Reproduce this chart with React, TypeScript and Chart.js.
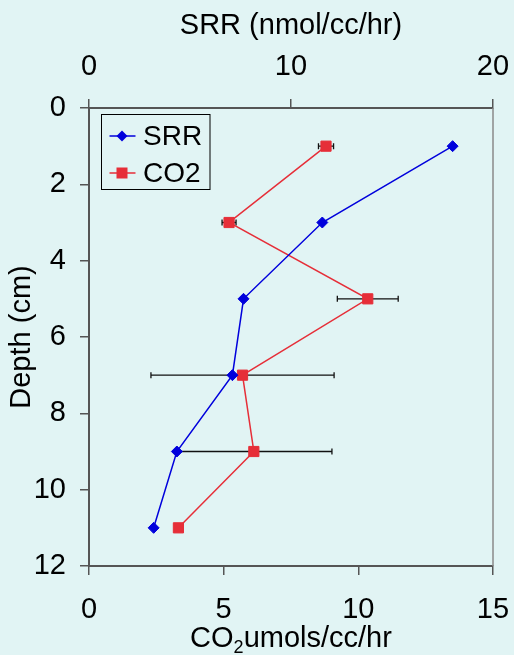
import React, { useEffect, useRef } from "react";
import { Chart, registerables } from "chart.js";

Chart.register(...registerables);

// ---- data ----
const depths = [1, 3, 5, 7, 9, 11];
const srrValues = [18.0, 11.55, 7.65, 7.1, 4.35, 3.2];
const co2Values = [8.8, 5.2, 10.35, 5.7, 6.12, 3.32];
const co2Errors = [0.28, 0.26, 1.13, 3.4, 2.9, 0];

const srrTicks = [0, 10, 20];
const co2Ticks = [0, 5, 10, 15];
const depthTicks = [0, 2, 4, 6, 8, 10, 12];

const BG = "#e1f4f4";
const BLUE = "#0000dc";
const RED = "#e62e38";
const AXIS = "#555555";
const FONT = '"Liberation Sans", Arial, sans-serif';

const errorBarPlugin = {
  id: "errorBars",
  beforeDatasetsDraw(chart: any) {
    const ctx = chart.ctx;
    const xs = chart.scales.x;
    const ys = chart.scales.y;
    ctx.save();
    ctx.strokeStyle = "#111";
    ctx.lineWidth = 1.3;
    co2Values.forEach((v, i) => {
      const e = co2Errors[i];
      if (!e) return;
      const y = ys.getPixelForValue(depths[i]);
      const x1 = xs.getPixelForValue(v - e);
      const x2 = xs.getPixelForValue(v + e);
      ctx.beginPath();
      ctx.moveTo(x1, y);
      ctx.lineTo(x2, y);
      ctx.moveTo(x1, y - 3);
      ctx.lineTo(x1, y + 3);
      ctx.moveTo(x2, y - 3);
      ctx.lineTo(x2, y + 3);
      ctx.stroke();
    });
    ctx.restore();
  },
};

const framePlugin = {
  id: "frame",
  beforeDatasetsDraw(chart: any) {
    const { ctx, chartArea } = chart;
    ctx.save();
    ctx.strokeStyle = "#8a8a8a";
    ctx.lineWidth = 1.5;
    ctx.beginPath();
    ctx.moveTo(chartArea.right, chartArea.top);
    ctx.lineTo(chartArea.right, chartArea.bottom);
    ctx.stroke();
    ctx.restore();
  },
};

const customTextPlugin = {
  id: "customText",
  afterDraw(chart: any) {
    const { ctx, chartArea } = chart;
    ctx.save();
    // bottom axis title with subscript
    const big = `29px ${FONT}`;
    const small = `18px ${FONT}`;
    ctx.fillStyle = "#000";
    ctx.textBaseline = "alphabetic";
    ctx.textAlign = "left";
    ctx.font = big;
    const w1 = ctx.measureText("CO").width;
    const w3 = ctx.measureText("umols/cc/hr").width;
    ctx.font = small;
    const w2 = ctx.measureText("2").width;
    const cx = (chartArea.left + chartArea.right) / 2;
    let x = cx - (w1 + w2 + w3) / 2;
    const base = 647;
    ctx.font = big;
    ctx.fillText("CO", x, base);
    x += w1;
    ctx.font = small;
    ctx.fillText("2", x, base + 5.5);
    x += w2;
    ctx.font = big;
    ctx.fillText("umols/cc/hr", x, base);

    // legend
    const bx = chartArea.left + 12.5;
    const by = chartArea.top + 6.5;
    ctx.strokeStyle = "#000";
    ctx.lineWidth = 1;
    ctx.strokeRect(bx, by, 108.5, 75);
    const rows = [
      { label: chart.data.datasets[0].label, color: BLUE, shape: "diamond", dy: 21.5 },
      { label: chart.data.datasets[1].label, color: RED, shape: "square", dy: 58.5 },
    ];
    rows.forEach((r) => {
      const y = by + r.dy;
      ctx.strokeStyle = r.color;
      ctx.lineWidth = 1.5;
      ctx.beginPath();
      ctx.moveTo(bx + 8, y);
      ctx.lineTo(bx + 34, y);
      ctx.stroke();
      ctx.fillStyle = r.color;
      const mx = bx + 20.5;
      ctx.beginPath();
      if (r.shape === "diamond") {
        ctx.moveTo(mx, y - 5.5);
        ctx.lineTo(mx + 5.5, y);
        ctx.lineTo(mx, y + 5.5);
        ctx.lineTo(mx - 5.5, y);
        ctx.closePath();
      } else {
        ctx.rect(mx - 5.5, y - 5.5, 11, 11);
      }
      ctx.fill();
      ctx.fillStyle = "#000";
      ctx.font = `28px ${FONT}`;
      ctx.textBaseline = "middle";
      ctx.fillText(r.label, bx + 41.5, y + 1);
    });
    ctx.restore();
  },
};

function zeroPad(s: any) {
  s.paddingLeft = 0;
  s.paddingRight = 0;
  s.paddingTop = 0;
  s.paddingBottom = 0;
}

export default function App() {
  const ref = useRef<HTMLCanvasElement | null>(null);
  useEffect(() => {
    if (!ref.current) return;
    const tickFont = { family: FONT, size: 29 };
    const chart = new Chart(ref.current, {
      type: "scatter",
      data: {
        datasets: [
          {
            label: "SRR",
            data: depths.map((d, i) => ({ x: srrValues[i], y: d })),
            xAxisID: "xTop",
            yAxisID: "y",
            showLine: true,
            borderColor: BLUE,
            backgroundColor: BLUE,
            borderWidth: 1.5,
            pointStyle: "rectRot",
            pointRadius: 5.5,
            pointBorderWidth: 1,
            pointBackgroundColor: BLUE,
            pointBorderColor: BLUE,
          },
          {
            label: "CO2",
            data: depths.map((d, i) => ({ x: co2Values[i], y: d })),
            xAxisID: "x",
            yAxisID: "y",
            showLine: true,
            borderColor: RED,
            backgroundColor: RED,
            borderWidth: 1.5,
            pointStyle: "rect",
            pointRadius: 7.2,
            pointBorderWidth: 1,
            pointBackgroundColor: RED,
            pointBorderColor: RED,
          },
        ],
      },
      options: {
        animation: false,
        responsive: false,
        maintainAspectRatio: false,
        layout: { padding: { left: 0, right: 21, top: 0, bottom: 0 } },
        plugins: { legend: { display: false }, tooltip: { enabled: false } },
        scales: {
          xTop: {
            type: "linear",
            position: "top",
            min: 0,
            max: 20,
            afterBuildTicks: (s: any) => {
              s.ticks = srrTicks.map((v) => ({ value: v }));
            },
            ticks: { font: tickFont, color: "#000", padding: 14.5, maxRotation: 0 },
            grid: { drawOnChartArea: false, tickLength: 9, color: AXIS, lineWidth: 1.5 },
            border: { color: AXIS, width: 2 },
            title: {
              display: true,
              text: "SRR (nmol/cc/hr)",
              font: tickFont,
              color: "#000",
              padding: { top: 8.5, bottom: 0 },
            },
            afterFit: (s: any) => {
              s.height = 108;
              zeroPad(s);
            },
          },
          x: {
            type: "linear",
            position: "bottom",
            min: 0,
            max: 15,
            afterBuildTicks: (s: any) => {
              s.ticks = co2Ticks.map((v) => ({ value: v }));
            },
            ticks: { font: tickFont, color: "#000", padding: 17.5, maxRotation: 0 },
            grid: { drawOnChartArea: false, tickLength: 9, color: AXIS, lineWidth: 1.5 },
            border: { color: AXIS, width: 2 },
            title: { display: false },
            afterFit: (s: any) => {
              s.height = 89;
              zeroPad(s);
            },
          },
          y: {
            type: "linear",
            position: "left",
            reverse: true,
            min: 0,
            max: 12,
            afterBuildTicks: (s: any) => {
              s.ticks = depthTicks.map((v) => ({ value: v }));
            },
            ticks: { font: tickFont, color: "#000", padding: 14 },
            grid: { drawOnChartArea: false, tickLength: 9, color: AXIS, lineWidth: 1.5 },
            border: { color: AXIS, width: 2 },
            title: {
              display: true,
              text: "Depth (cm)",
              font: tickFont,
              color: "#000",
              padding: { top: 5, bottom: 0 },
            },
            afterFit: (s: any) => {
              s.width = 89;
              zeroPad(s);
            },
          },
        },
      },
      plugins: [framePlugin, errorBarPlugin, customTextPlugin],
    } as any);
    return () => chart.destroy();
  }, []);

  return (
    <div
      style={{
        position: "absolute",
        left: 0,
        top: 0,
        width: 514,
        height: 655,
        background: BG,
      }}
    >
      <canvas ref={ref} width={514} height={655} style={{ display: "block" }} />
    </div>
  );
}
